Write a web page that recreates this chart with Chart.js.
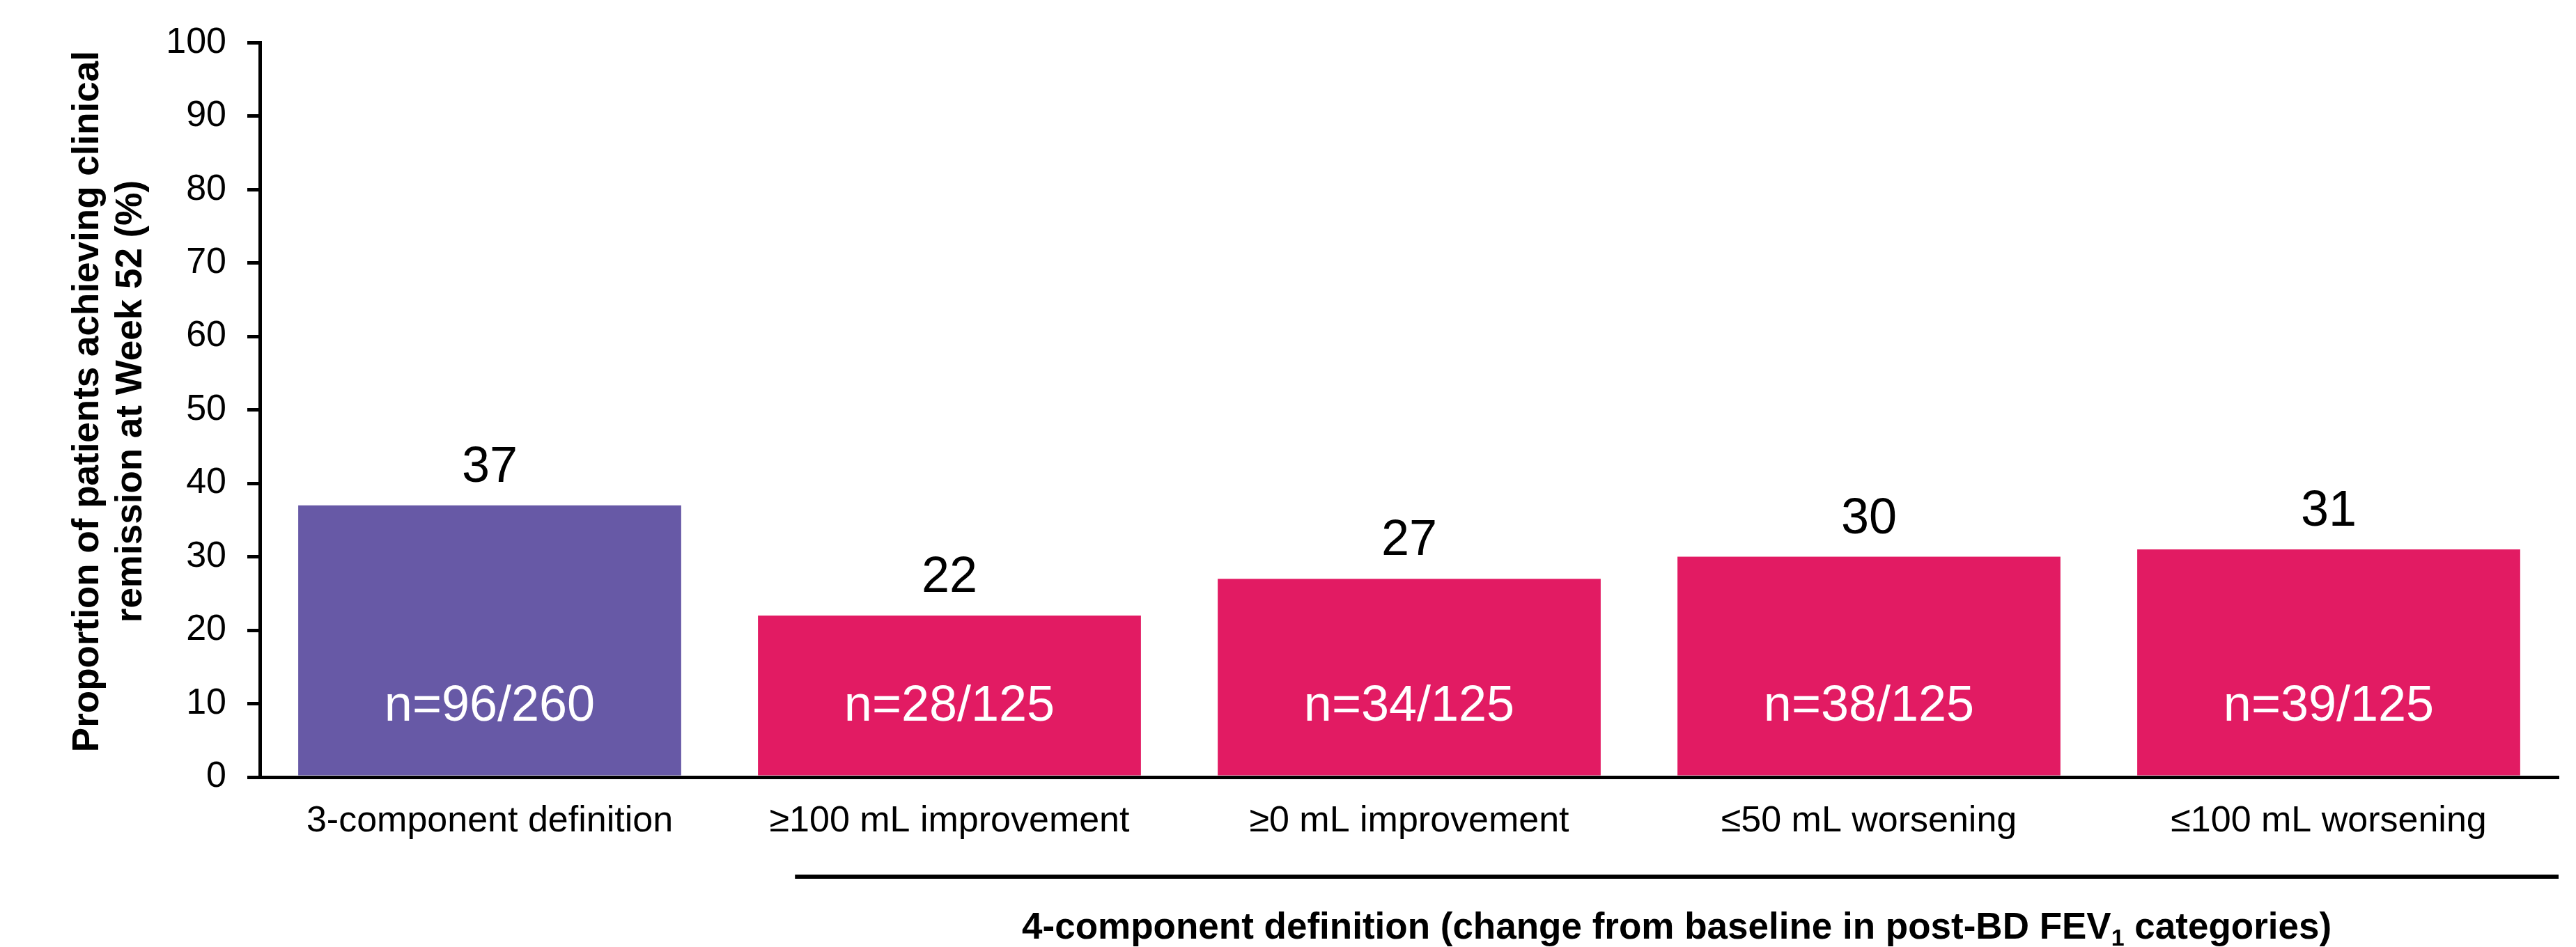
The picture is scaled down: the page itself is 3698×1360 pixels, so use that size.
<!DOCTYPE html>
<html><head><meta charset="utf-8">
<script src="https://cdn.jsdelivr.net/npm/chart.js@4.4.0/dist/chart.umd.min.js"></script>
<style>html,body{margin:0;padding:0;background:#fff;overflow:hidden}#wrap{width:3698px;height:1360px;position:relative}</style>
</head><body><div id="wrap"><canvas id="c" width="3698" height="1360"></canvas></div>
<script>
const categories = ["3-component definition", "≥100 mL improvement", "≥0 mL improvement", "≤50 mL worsening", "≤100 mL worsening"];
const percentValues = [37, 22, 27, 30, 31];
const nLabels = ["n=96/260", "n=28/125", "n=34/125", "n=38/125", "n=39/125"];
const barColors = ["#6759A6", "#E21B63", "#E21B63", "#E21B63", "#E21B63"];
const yTickValues = [0, 10, 20, 30, 40, 50, 60, 70, 80, 90, 100];
const yTitleLines = ["Proportion of patients achieving clinical", "remission at Week 52 (%)"];
const groupLabelParts = ["4-component definition (change from baseline in post-BD FEV", "1", " categories)"];

const FAMILY = "'Liberation Sans', Arial, Helvetica, sans-serif";
Chart.defaults.font.family = FAMILY;
Chart.defaults.color = '#000';

const annotate = {
  id: 'annotate',
  afterDraw(chart) {
    const ctx = chart.ctx;
    const ca = chart.chartArea;
    const xs = chart.scales.x;
    const meta = chart.getDatasetMeta(0);
    ctx.save();
    // value labels and n labels
    meta.data.forEach((el, i) => {
      ctx.textAlign = 'center';
      ctx.textBaseline = 'alphabetic';
      ctx.font = '72px ' + FAMILY;
      ctx.fillStyle = '#000';
      ctx.fillText(String(percentValues[i]), el.x, el.y - 34);
      ctx.fillStyle = '#fff';
      ctx.fillText(nLabels[i], el.x, el.base - 79);
    });
    // y-axis title
    ctx.fillStyle = '#000';
    ctx.font = 'bold 53px ' + FAMILY;
    ctx.textAlign = 'center';
    ctx.textBaseline = 'alphabetic';
    const cy = (ca.top + ca.bottom) / 2 - 12;
    const baseXs = [ca.left - 232, ca.left - 170];
    yTitleLines.forEach((line, i) => {
      ctx.save();
      ctx.translate(baseXs[i], cy);
      ctx.rotate(-Math.PI / 2);
      ctx.fillText(line, 0, 0);
      ctx.restore();
    });
    // group bracket line
    const catW = xs.getPixelForValue(1) - xs.getPixelForValue(0);
    const lx1 = xs.getPixelForValue(1) - 0.336 * catW;
    const lx2 = ca.right;
    const ly = ca.bottom + 143;
    ctx.strokeStyle = '#000';
    ctx.lineWidth = 6;
    ctx.beginPath();
    ctx.moveTo(lx1, ly);
    ctx.lineTo(lx2, ly);
    ctx.stroke();
    // group label with subscript
    const big = 'bold 53px ' + FAMILY;
    const small = 'bold 34px ' + FAMILY;
    ctx.textAlign = 'left';
    ctx.font = big;
    const w0 = ctx.measureText(groupLabelParts[0]).width;
    const w2 = ctx.measureText(groupLabelParts[2]).width;
    ctx.font = small;
    const w1 = ctx.measureText(groupLabelParts[1]).width;
    const total = w0 + w1 + w2;
    let gx = (lx1 + lx2) / 2 - total / 2;
    const gy = ca.bottom + 232;
    ctx.font = big;
    ctx.fillText(groupLabelParts[0], gx, gy);
    gx += w0;
    ctx.font = small;
    ctx.fillText(groupLabelParts[1], gx, gy + 10);
    gx += w1;
    ctx.font = big;
    ctx.fillText(groupLabelParts[2], gx, gy);
    ctx.restore();
  }
};

new Chart(document.getElementById('c'), {
  type: 'bar',
  data: {
    labels: categories,
    datasets: [{
      data: percentValues,
      backgroundColor: barColors,
      borderWidth: 0,
      barPercentage: 0.833,
      categoryPercentage: 1.0
    }]
  },
  options: {
    responsive: false,
    maintainAspectRatio: false,
    animation: false,
    layout: { padding: { left: 0, right: 25, top: 59, bottom: 0 } },
    plugins: { legend: { display: false }, tooltip: { enabled: false } },
    scales: {
      x: {
        grid: { display: false, drawTicks: false },
        border: { display: true, color: '#000', width: 5 },
        ticks: { color: '#000', font: { size: 52, family: FAMILY }, padding: 32, maxRotation: 0, autoSkip: false },
        afterFit(s) { s.height = 244; }
      },
      y: {
        min: 0, max: 100,
        afterBuildTicks(s) { s.ticks = yTickValues.map(v => ({ value: v })); },
        ticks: { color: '#000', font: { size: 52, family: FAMILY }, padding: 30 },
        grid: { display: true, drawOnChartArea: false, drawTicks: true, tickLength: 18, color: '#000', lineWidth: 5 },
        border: { display: true, color: '#000', width: 5 },
        afterFit(s) { s.width = 373; }
      }
    }
  },
  plugins: [annotate]
});
</script>
</body></html>
